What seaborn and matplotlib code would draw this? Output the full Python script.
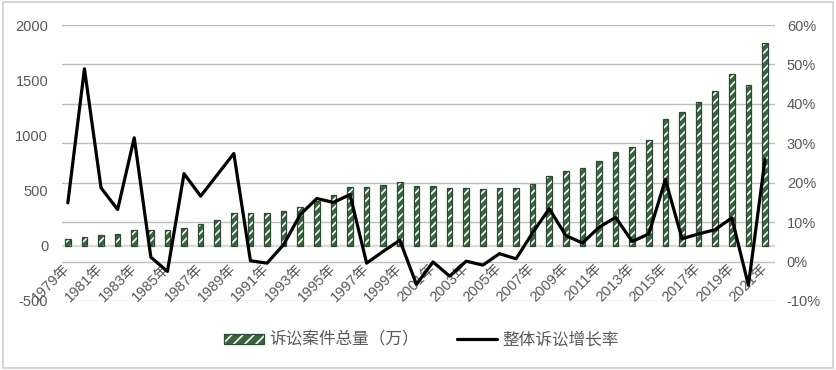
import seaborn as sns
import matplotlib.pyplot as plt
import pandas as pd
import numpy as np
from matplotlib.lines import Line2D
from matplotlib.patches import Patch, Rectangle
from matplotlib.legend_handler import HandlerTuple

# --- estilo ---
sns.set_theme(style="white")
plt.rcParams['font.family'] = ['Liberation Sans', 'Noto Sans CJK SC', 'DejaVu Sans']
plt.rcParams['hatch.linewidth'] = 1.2

GREEN = '#3A6340'
DARK_GREEN = '#2C4A2F'
TEXT = '#595959'
HATCH = '////'

# --- datos ---
years = list(range(1979, 2022))
year_labels = [f"{y}年" for y in years]
cases = [61, 79, 97, 106, 142, 142, 139, 163, 194, 236,
         296, 296, 296, 315, 348, 405, 463, 535, 535, 547,
         575, 545, 538, 520, 520, 514, 523, 523, 563, 635,
         674, 705, 765, 850, 895, 956, 1152, 1216, 1300, 1400,
         1552, 1461, 1833]
growth = [14.9, 48.9, 18.7, 13.2, 31.4, 1.1, -2.5, 22.3, 16.6, 22.0,
          27.4, 0.2, -0.4, 4.3, 11.9, 16.0, 15.0, 17.0, -0.4, 2.6,
          5.4, -5.8, -0.1, -3.7, 0.1, -0.9, 2.0, 0.7, 7.3, 13.4,
          6.6, 4.7, 8.7, 11.2, 5.1, 7.0, 20.8, 5.8, 7.0, 8.1,
          11.1, -6.0, 25.9]
left_ticks = [-500, 0, 500, 1000, 1500, 2000]
right_ticks = [-10, 0, 10, 20, 30, 40, 50, 60]

df = pd.DataFrame({'year': year_labels, 'cases': cases,
                   'growth': growth, 'pos': np.arange(len(years))})

fig = plt.figure(figsize=(8.36, 3.70), dpi=100)
ax1 = fig.add_axes([0.0742, 0.1865, 0.8528, 0.7459])

# barras: relleno verde + rayado blanco + contorno
sns.barplot(data=df, x='year', y='cases', color=GREEN, saturation=1,
            width=0.33, ax=ax1)
for p in ax1.patches:
    p.set_hatch(HATCH)
    p.set_edgecolor('white')
    p.set_linewidth(0)
sns.barplot(data=df, x='year', y='cases', color=DARK_GREEN, saturation=1,
            width=0.33, fill=False, linewidth=0.9, ax=ax1)

ax1.set_xlim(-0.35, 42.6)
ax1.set_ylim(-500, 2000)

# líneas de cuadrícula del eje derecho, dibujadas detrás de las barras
for v in right_ticks:
    ax1.axhline(-500 + (v + 10) * 2500 / 70, color='#BDBDBD', lw=1, zorder=0)
ax1.axhline(0, color='#DADADA', lw=1.6, zorder=0.5)

ax1.set_yticks(left_ticks)
ax1.set_yticklabels([str(v) for v in left_ticks])
ax1.set_xticks(range(0, len(years), 2))
ax1.set_xticklabels(year_labels[::2], rotation=45, ha='right', va='center',
                    rotation_mode='anchor')
ax1.tick_params(axis='x', length=0, pad=-25, labelsize=10.5, labelcolor=TEXT)
ax1.tick_params(axis='y', length=0, pad=10, labelsize=10.5, labelcolor=TEXT)
ax1.set_xlabel('')
ax1.set_ylabel('')
for s in ax1.spines.values():
    s.set_visible(False)

# línea de crecimiento
ax2 = ax1.twinx()
sns.lineplot(data=df, x='pos', y='growth', color='black', lw=2.3, ax=ax2)
ax2.set_ylim(-10, 60)
ax2.set_yticks(right_ticks)
ax2.set_yticklabels([f"{v}%" for v in right_ticks])
ax2.tick_params(axis='y', length=0, pad=8.5, labelsize=10.5, labelcolor=TEXT)
ax2.set_xlabel('')
ax2.set_ylabel('')
ax2.grid(False)
for s in ax2.spines.values():
    s.set_visible(False)
ax1.set_xlim(-0.35, 42.6)

# leyenda
bar_handle = (Patch(facecolor=GREEN, edgecolor='none'),
              Patch(facecolor='none', edgecolor='white', hatch='///', linewidth=0),
              Patch(facecolor='none', edgecolor=DARK_GREEN, linewidth=0.9))
line_handle = Line2D([], [], color='black', lw=2.3)
fig.legend([bar_handle, line_handle], ['诉讼案件总量（万）', '整体诉讼增长率'],
           handler_map={tuple: HandlerTuple(ndivide=1, pad=0)},
           loc='center', bbox_to_anchor=(0.504, 0.081), ncol=2, frameon=False,
           prop={'family': ['Noto Sans CJK SC'], 'size': 12},
           labelcolor=TEXT, handlelength=2.4, handleheight=0.55,
           handletextpad=0.3, columnspacing=2.3)

# marco exterior
fig.patches.append(Rectangle((0.003, 0.005), 0.994, 0.99, transform=fig.transFigure,
                             fill=False, edgecolor='#D0D0D0', lw=1.2))

fig.savefig('out.png', dpi=100)
